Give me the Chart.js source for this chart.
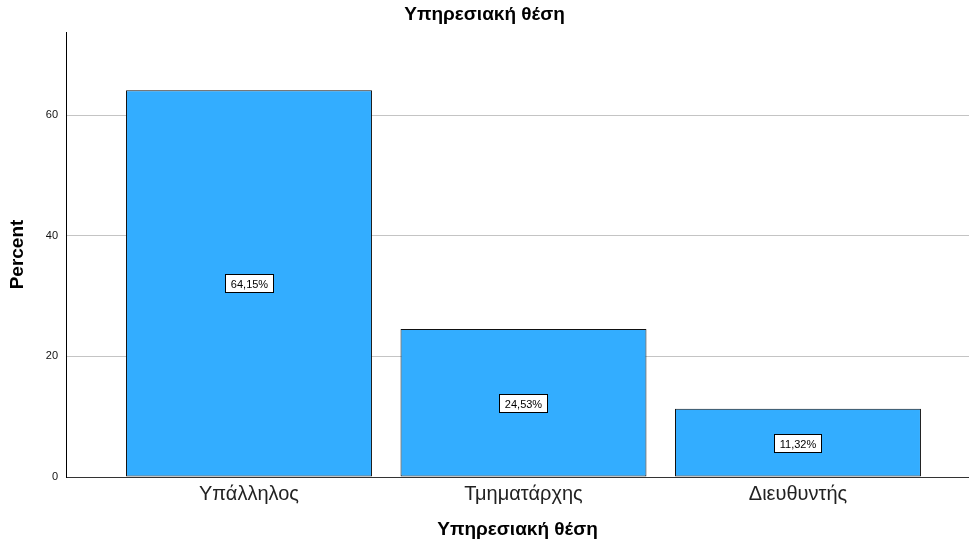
<!DOCTYPE html>
<html>
<head>
<meta charset="utf-8">
<script src="https://cdn.jsdelivr.net/npm/chart.js@4/dist/chart.umd.min.js"></script>
<style>
  html, body { margin: 0; padding: 0; background: #fff; }
  #wrap { width: 969px; height: 541px; }
</style>
</head>
<body>
<div id="wrap"><canvas id="chart"></canvas></div>
<script>
const categories = ["Υπάλληλος", "Τμηματάρχης", "Διευθυντής"];
const percents = [64.15, 24.53, 11.32];
const yTicks = [0, 20, 40, 60];

const FONT = "'Liberation Sans', Arial, sans-serif";

// boxed percentage labels in the middle of each bar
const barLabels = {
  id: "barLabels",
  afterDatasetsDraw(chart) {
    const ctx = chart.ctx;
    const meta = chart.getDatasetMeta(0);
    ctx.save();
    ctx.font = "11px " + FONT;
    ctx.textAlign = "center";
    ctx.textBaseline = "middle";
    meta.data.forEach((bar, i) => {
      const txt = percents[i].toFixed(2).replace(".", ",") + "%";
      const w = Math.round(ctx.measureText(txt).width + 11);
      const h = 18;
      const x0 = Math.round(bar.x - w / 2) + 0.5;
      const y0 = Math.round((bar.y + bar.base) / 2 - h / 2) + 0.5;
      ctx.fillStyle = "#fff";
      ctx.fillRect(x0, y0, w, h);
      ctx.strokeStyle = "#000";
      ctx.lineWidth = 1;
      ctx.strokeRect(x0, y0, w, h);
      ctx.fillStyle = "#000";
      ctx.fillText(txt, x0 + w / 2, y0 + h / 2 + 1);
    });
    ctx.restore();
  }
};

new Chart(document.getElementById("chart"), {
  type: "bar",
  data: {
    datasets: [{
      data: percents.map((v, i) => ({ x: i, y: v })),
      backgroundColor: "#33adff",
      borderColor: "#111",
      borderWidth: 1,
      borderSkipped: false,
      categoryPercentage: 1,
      barPercentage: 0.896
    }]
  },
  options: {
    responsive: true,
    maintainAspectRatio: false,
    animation: false,
    layout: { padding: 0 },
    plugins: {
      legend: { display: false },
      tooltip: { enabled: false },
      title: {
        display: true,
        text: "Υπηρεσιακή θέση",
        color: "#000",
        font: { family: FONT, size: 19, weight: "bold" },
        padding: { top: 3.5, bottom: 5.7 }
      }
    },
    scales: {
      x: {
        type: "linear",
        offset: false,
        min: -2 / 3,
        max: 2.623,
        afterBuildTicks: (s) => { s.ticks = categories.map((_, i) => ({ value: i })); },
        afterFit: (s) => { s.height = 64; },
        grid: { display: false, drawTicks: false },
        border: { display: true, color: "#333", width: 1 },
        ticks: {
          padding: 5,
          color: "#222",
          font: { family: FONT, size: 20 },
          maxRotation: 0,
          callback: (v) => categories[v]
        },
        title: {
          display: true,
          text: "Υπηρεσιακή θέση",
          color: "#000",
          font: { family: FONT, size: 19, weight: "bold" },
          padding: { top: 0, bottom: 0 }
        }
      },
      y: {
        min: 0,
        max: 73.8,
        afterBuildTicks: (s) => { s.ticks = yTicks.map((v) => ({ value: v })); },
        afterFit: (s) => { s.width = 66; },
        grid: {
          drawTicks: false,
          color: (c) => (c.tick && c.tick.value === 0 ? "rgba(0,0,0,0)" : "#c4c4c4"),
          lineWidth: 1
        },
        border: { display: true, color: "#000", width: 1 },
        ticks: {
          padding: 8,
          color: "#111",
          font: { family: FONT, size: 11 }
        },
        title: {
          display: true,
          text: "Percent",
          color: "#000",
          font: { family: FONT, size: 19, weight: "bold" },
          padding: { top: 6, bottom: 0 }
        }
      }
    }
  },
  plugins: [barLabels]
});
</script>
</body>
</html>
